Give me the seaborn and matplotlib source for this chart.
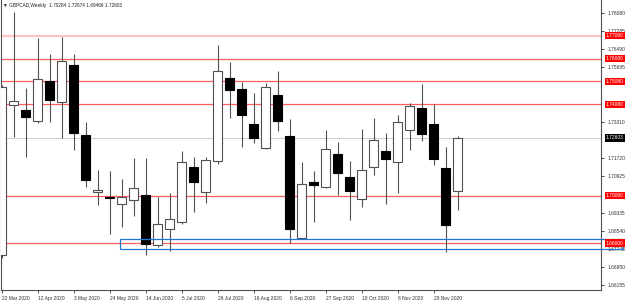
import numpy as np
import pandas as pd
import seaborn as sns
import matplotlib.pyplot as plt
from matplotlib.patches import Rectangle

# GBPCAD weekly candles, week 0 = 22 Mar 2020
opens = [1.67478, 1.74035, 1.73829, 1.73334, 1.75100, 1.74180, 1.75800, 1.72734,
         1.70225, 1.69997, 1.69712, 1.69887, 1.70106, 1.67916, 1.68617, 1.68924,
         1.71333, 1.70238, 1.71596, 1.75231, 1.74749, 1.73216, 1.72165, 1.74486,
         1.72691, 1.68223, 1.70676, 1.70457, 1.71902, 1.70895, 1.69931, 1.71333,
         1.72034, 1.71552, 1.72953, 1.73917, 1.73216, 1.71289, 1.70284]
highs = [1.74924, 1.78122, 1.74793, 1.76983, 1.76282, 1.77027, 1.76282, 1.73304,
         1.71201, 1.71158, 1.70807, 1.71727, 1.71727, 1.70019, 1.70194, 1.72034,
         1.71771, 1.71771, 1.76676, 1.75932, 1.75056, 1.74574, 1.75012, 1.75538,
         1.73435, 1.71552, 1.71158, 1.72953, 1.72428, 1.71596, 1.72997, 1.73479,
         1.72822, 1.73610, 1.74136, 1.74968, 1.74092, 1.72209, 1.72674]
lows = [1.67347, 1.72647, 1.71771, 1.73260, 1.73304, 1.72603, 1.72077, 1.70457,
        1.69668, 1.68398, 1.68705, 1.69187, 1.67478, 1.67829, 1.67654, 1.68836,
        1.69362, 1.69756, 1.71464, 1.73479, 1.72209, 1.72384, 1.72120, 1.72910,
        1.68004, 1.68179, 1.68924, 1.70413, 1.70106, 1.69011, 1.69581, 1.70982,
        1.69712, 1.70194, 1.72077, 1.72472, 1.71420, 1.67610, 1.69466]
closes = [1.74837, 1.74237, 1.73536, 1.75174, 1.74267, 1.75976, 1.72822, 1.70763,
          1.70339, 1.69966, 1.70019, 1.70413, 1.67960, 1.68836, 1.69055, 1.71552,
          1.70676, 1.71639, 1.75538, 1.74705, 1.73610, 1.72603, 1.74837, 1.73348,
          1.68617, 1.70588, 1.70544, 1.72121, 1.71070, 1.70282, 1.71201, 1.72515,
          1.71683, 1.73304, 1.74005, 1.72778, 1.71683, 1.68792, 1.72603]

level_lines = [1.77080, 1.76080, 1.75080, 1.74080, 1.70080, 1.68000]
last_price = 1.72603
zone_low, zone_high = 1.67741, 1.68179
zone_start = 9.9

price_ticks = [1.78080, 1.77285, 1.76490, 1.75695, 1.73310, 1.71720,
               1.70925, 1.69335, 1.68540, 1.67745, 1.66950, 1.66155]
date_pos = [0, 3, 6, 9, 12, 15, 18, 21, 24, 27, 30, 33, 36]
date_labels = ['22 Mar 2020', '12 Apr 2020', '3 May 2020', '24 May 2020',
               '14 Jun 2020', '5 Jul 2020', '26 Jul 2020', '16 Aug 2020',
               '6 Sep 2020', '27 Sep 2020', '18 Oct 2020', '8 Nov 2020',
               '29 Nov 2020']

df = pd.DataFrame({'open': opens, 'high': highs, 'low': lows, 'close': closes})
df['week'] = np.arange(len(df))
df['up'] = df['close'] >= df['open']
df['body_lo'] = df[['open', 'close']].min(axis=1)
df['body_h'] = (df['close'] - df['open']).abs().clip(lower=0.00018)

sns.set_style('white')
plt.rcParams['font.family'] = ['Liberation Sans', 'DejaVu Sans']

fig = plt.figure(figsize=(6.25, 3.04), dpi=100)
ax = fig.add_axes([1 / 625, 14 / 304, 600 / 625, 290 / 304])

# levels
for lv in level_lines:
    if lv == 1.77080:
        ax.axhline(lv, color='#ffc4c4', lw=1.6, zorder=1)
    else:
        ax.axhline(lv, color='#ff5c5c', lw=0.9, zorder=1)
ax.axhline(last_price, color='#cfcfcf', lw=0.8, zorder=1)

# candles
ax.vlines(df['week'], df['low'], df['high'], color='#505050', lw=0.8, zorder=2)
ax.bar(df['week'], df['body_h'], bottom=df['body_lo'], width=0.74,
       color=np.where(df['up'], 'white', 'black'),
       edgecolor=np.where(df['up'], '#505050', 'black'), linewidth=0.8, zorder=3)

ax.add_patch(Rectangle((zone_start, zone_low), 51.8 - zone_start, zone_high - zone_low,
                       fill=False, ec='#1e78d0', lw=0.9, clip_on=False, zorder=6))

ax.set_xlim(-0.05, 49.95)
ax.set_ylim(1.65945, 1.78647)

ax.yaxis.tick_right()
ax.set_yticks(price_ticks)
ax.set_yticklabels([f'{v:.5f}' for v in price_ticks])
ax.set_xticks(date_pos)
ax.set_xticklabels(date_labels, ha='left')
ax.tick_params(axis='y', labelsize=3.5, length=2.5, width=0.6, pad=2, colors='#303030', left=False, right=True)
ax.tick_params(axis='x', labelsize=3.5, length=2.5, width=0.6, pad=1.5, colors='#303030', bottom=True)

for side in ['left', 'right', 'bottom']:
    ax.spines[side].set_color('#505050')
    ax.spines[side].set_linewidth(0.8)
ax.spines['top'].set_visible(False)

# price labels on the right axis
ytf = ax.get_yaxis_transform()
for lv in level_lines:
    ax.text(1.008, lv, f'{lv:.5f}', transform=ytf, color='white', fontsize=3.5,
            va='center', ha='left', clip_on=False, zorder=7,
            bbox=dict(boxstyle='square,pad=0.25', fc='#ff0000', ec='none'))
ax.text(1.008, last_price, f'{last_price:.5f}', transform=ytf, color='white', fontsize=3.5,
        va='center', ha='left', clip_on=False, zorder=7,
        bbox=dict(boxstyle='square,pad=0.25', fc='black', ec='none'))

fig.text(3 / 625, 1 - 5.5 / 304, '▼ GBPCAD,Weekly  1.70284 1.72674 1.69466 1.72603',
         fontsize=3.4, va='center', ha='left', color='#202020')

fig.savefig('out.png', dpi=100)
